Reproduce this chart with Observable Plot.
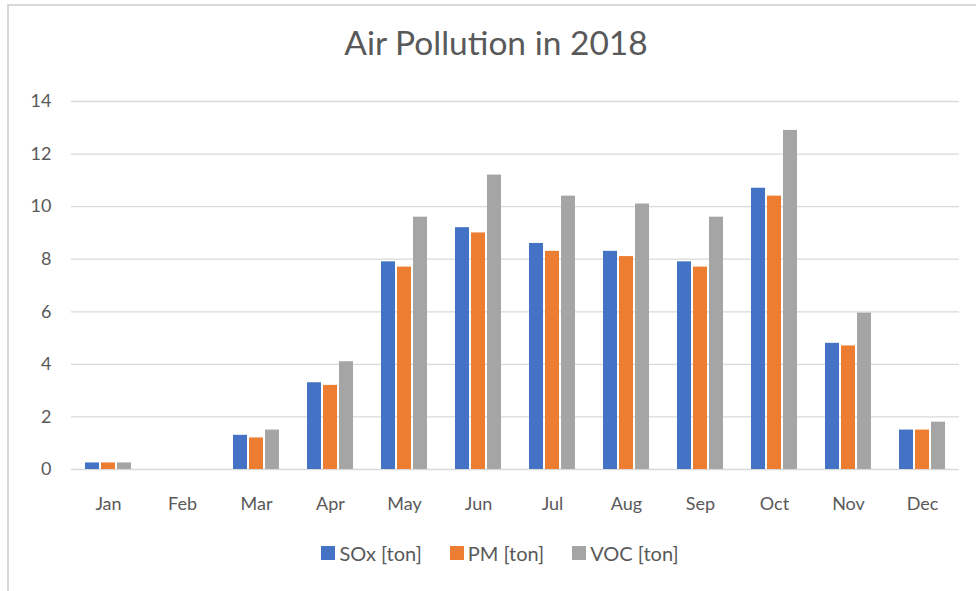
<!DOCTYPE html>
<html><head><meta charset="utf-8">
<script src="https://cdn.jsdelivr.net/npm/d3@7"></script>
<script src="https://cdn.jsdelivr.net/npm/@observablehq/plot@0.6"></script>
<style>
body{margin:0;background:#fff;font-family:Lato,"Open Sans",sans-serif;}
#fig{position:relative;width:976px;height:591px;overflow:hidden;background:#fff;}
#frame{position:absolute;left:7px;top:4px;width:1000px;height:620px;border-top:2px solid #d9d9d9;border-left:2px solid #d9d9d9;}
#title{position:absolute;left:16px;width:960px;top:22px;text-align:center;font-size:33.5px;color:#595959;line-height:41px;}
#chart{position:absolute;left:0;top:0;}
#legend{position:absolute;top:541px;left:24px;width:952px;display:flex;justify-content:center;font-size:20px;color:#595959;line-height:24px;}
.item{display:flex;align-items:center;margin:0 14px;}
.sw{width:14px;height:14px;margin-right:4px;}
</style></head>
<body>
<div id="fig">
<div id="frame"></div>
<div id="chart"></div>
<div id="title">Air Pollution in 2018</div>
<div id="legend"></div>
</div>
<script>
const months = ["Jan","Feb","Mar","Apr","May","Jun","Jul","Aug","Sep","Oct","Nov","Dec"];
const series = ["SOx [ton]","PM [ton]","VOC [ton]"];
const sox = [0.25,0,1.3,3.3,7.9,9.2,8.6,8.3,7.9,10.7,4.8,1.5];
const pm  = [0.25,0,1.2,3.2,7.7,9.0,8.3,8.1,7.7,10.4,4.7,1.5];
const voc = [0.25,0,1.5,4.1,9.6,11.2,10.4,10.1,9.6,12.9,5.95,1.8];
const yTicks = [0,2,4,6,8,10,12,14];
const colors = ["#4472C4","#ED7D31","#A5A5A5"];

const seriesValues = [sox, pm, voc];
const data = months.flatMap((m, i) => seriesValues.map((arr, j) => ({month: m, series: series[j], value: arr[i]})));

const chart = Plot.plot({
  width: 976, height: 591,
  marginLeft: 68, marginRight: 14, marginTop: 101, marginBottom: 122,
  style: {fontFamily: "Lato, 'Open Sans', sans-serif", fontSize: "18px", color: "#595959", background: "transparent", overflow: "visible"},
  fx: {domain: months, padding: 0, label: null, tickSize: 0, tickPadding: 28},
  x: {domain: series, axis: null, paddingInner: 0.14, paddingOuter: 0.86},
  y: {domain: [0, 14], ticks: yTicks, tickSize: 0, tickPadding: 20, label: null},
  color: {domain: series, range: colors},
  marks: [
    Plot.ruleY(yTicks, {stroke: "#d9d9d9", strokeWidth: 1.3}),
    Plot.barY(data, {fx: "month", x: "series", y: "value", fill: "series"})
  ]
});
document.getElementById("chart").appendChild(chart);

const legend = document.getElementById("legend");
series.forEach((s, i) => {
  const it = document.createElement("div");
  it.className = "item";
  const sw = document.createElement("div");
  sw.className = "sw";
  sw.style.background = colors[i];
  const t = document.createElement("span");
  t.textContent = s;
  it.appendChild(sw); it.appendChild(t);
  legend.appendChild(it);
});
</script>
</body></html>
